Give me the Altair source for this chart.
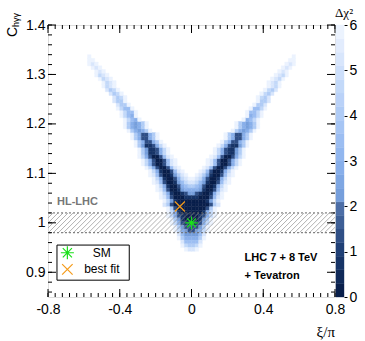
import altair as alt
import pandas as pd
import numpy as np

# ---------------- data ----------------
# histogram binning (80 x 80 bins)
X_MIN, X_BIN = -0.8, 0.02
Y_MIN, Y_BIN = 0.8, 0.0075
N_COLS = 80

# level digit -> estimated delta chi2 of the cell ('.' = empty / above 6)
LEVEL_DCHI2 = [0.15, 0.75, 1.35, 2.25, 2.85, 3.45, 4.05, 4.65, 5.25, 5.85]

# lower part of the V: full rows, first character is column 25
FULL_ROW_FIRST_COL = 25
FULL_ROWS = [
    (41, "..9742002589......9852002479.."),
    (40, "...9741002589....9852001479..."),
    (39, "...98520013689..98631002589..."),
    (38, "....9741002478998742001479...."),
    (37, "....9852001357887531002589...."),
    (36, ".....97410024566542001479....."),
    (35, ".....98520013444431002589....."),
    (34, "......974100123321001479......"),
    (33, "......985200011110002589......"),
    (32, ".......9731000000001379......."),
    (31, ".......8620000000000268......."),
    (30, "........96200000000269........"),
    (29, "........97410000001479........"),
    (28, "........97421000012479........"),
    (27, ".........963100001369........."),
    (26, ".........974211112479........."),
    (25, "..........9632222369.........."),
    (24, "..........9743223479.........."),
    (23, "...........85333358..........."),
    (22, "...........96444469..........."),
    (21, "............855558............"),
    (20, "............976679............"),
    (19, ".............9889............."),
]

# upper arms: (row, first column of left arm, levels); right arm is its mirror
ARM_ROWS = [
    (42, 26, "9742002589"), (43, 26, "9742002589"), (44, 25, "9742002589"),
    (45, 25, "963112479"), (46, 25, "963112479"), (47, 24, "963112479"),
    (48, 24, "96422469"), (49, 23, "96422469"), (50, 23, "96422469"),
    (51, 22, "9643469"), (52, 21, "9643469"), (53, 21, "9643469"),
    (54, 21, "97549"), (55, 20, "97549"), (56, 20, "97559"), (57, 19, "97559"),
    (58, 19, "8669"), (59, 18, "8669"), (60, 18, "8679"), (61, 17, "8679"),
    (62, 16, "8679"), (63, 15, "9789"), (64, 15, "9789"), (65, 14, "9789"),
    (66, 13, "9789"), (67, 13, "989"), (68, 12, "989"), (69, 11, "989"),
    (70, 11, "99"), (71, 11, "9"),
]

SM_POINT = (0.0, 1.0)
BEST_FIT = (-0.065, 1.033)
HL_LHC_BAND = (0.98, 1.02)

X_MAJOR = [-0.8, -0.4, 0.0, 0.4, 0.8]
Y_MAJOR = [0.9, 1.0, 1.1, 1.2, 1.3, 1.4]
CBAR_TICKS = [0, 1, 2, 3, 4, 5, 6]

# ---------------- layout / style ----------------
W, H = 287, 272
FONT = "Liberation Sans"

ANCHORS = [(0.0, "#061a44"), (1.0, "#1d3d73"), (1.95, "#4d6ea6"), (2.0, "#6e98d6"),
           (3.0, "#8db3ee"), (4.0, "#aecbf6"), (5.0, "#cfe0fb"), (6.0, "#f1f6ff")]


def _interp(v):
    for (a, ca), (b, cb) in zip(ANCHORS[:-1], ANCHORS[1:]):
        if a <= v <= b:
            t = (v - a) / (b - a)
            c1 = [int(ca[i:i + 2], 16) for i in (1, 3, 5)]
            c2 = [int(cb[i:i + 2], 16) for i in (1, 3, 5)]
            return "#" + "".join(f"{round(p + (q - p) * t):02x}" for p, q in zip(c1, c2))
    return ANCHORS[-1][1]


N_LEVELS = 20
PALETTE = [_interp((i + 0.5) * 6 / N_LEVELS) for i in range(N_LEVELS)]

# ---------------- build tables ----------------
cells = []


def add(r, c, ch):
    if ch == ".":
        return
    cells.append(dict(x0=X_MIN + X_BIN * c, x1=X_MIN + X_BIN * (c + 1),
                      y0=Y_MIN + Y_BIN * r, y1=Y_MIN + Y_BIN * (r + 1),
                      d=LEVEL_DCHI2[int(ch)]))


for r, s in FULL_ROWS:
    for i, ch in enumerate(s):
        add(r, FULL_ROW_FIRST_COL + i, ch)
for r, start, s in ARM_ROWS:
    for i, ch in enumerate(s):
        add(r, start + i, ch)
        add(r, N_COLS - 1 - (start + i), ch)
heat_df = pd.DataFrame(cells)

xs = alt.Scale(domain=[-0.8, 0.8], nice=False, zero=False)
ys = alt.Scale(domain=[0.85, 1.4], nice=False, zero=False)
cs = alt.Scale(type="quantize", domain=[0, 6], range=PALETTE)

X_AXIS = alt.Axis(values=X_MAJOR, ticks=False, tickSize=0, domain=False, grid=False, title=None,
                  labelFontSize=14, labelFont=FONT, labelColor="black", labelPadding=5,
                  labelFlush=False, labelOverlap=False,
                  labelExpr="datum.value == 0 ? '0' : (datum.value < 0 ? '-' + format(-datum.value, '.1f') : format(datum.value, '.1f'))")
Y_AXIS = alt.Axis(values=Y_MAJOR, ticks=False, tickSize=0, domain=False, grid=False, title=None,
                  labelFontSize=14, labelFont=FONT, labelColor="black", labelPadding=3,
                  labelFlush=False, labelOverlap=False,
                  labelExpr="datum.value == 1 ? '1' : format(datum.value, '.1f')")


def X(field):
    return alt.X(field, type="quantitative", scale=xs, axis=X_AXIS, title=None)


def Y(field):
    return alt.Y(field, type="quantitative", scale=ys, axis=Y_AXIS, title=None)


heat = alt.Chart(heat_df).mark_rect(strokeWidth=0.4).encode(
    x=X("x0"), x2="x1", y=Y("y0"), y2="y1",
    color=alt.Color("d:Q", scale=cs, legend=None),
    stroke=alt.Stroke("d:Q", scale=cs, legend=None),
)

# hatched HL-LHC band (decoration)
dx = (HL_LHC_BAND[1] - HL_LHC_BAND[0]) * (H / 0.55) / (W / 1.6)
hx = np.arange(-0.8 - dx, 0.8, 0.028)
hatch_df = pd.DataFrame({"hx0": hx, "hx1": hx + dx,
                         "hy0": HL_LHC_BAND[0], "hy1": HL_LHC_BAND[1]})
hatch = alt.Chart(hatch_df).mark_rule(clip=True, color="#909090", strokeWidth=0.7).encode(
    x=X("hx0"), x2="hx1", y=Y("hy0"), y2="hy1")
band_edges = alt.Chart(pd.DataFrame({"y": list(HL_LHC_BAND)})).mark_rule(
    color="#666666", strokeDash=[2, 2], strokeWidth=1).encode(y=Y("y"))

one = pd.DataFrame({"a": [0]})


def text_at(x, y, txt, **kw):
    return alt.Chart(pd.DataFrame({"x": [x], "y": [y]})).mark_text(text=txt, **kw).encode(
        x=X("x"), y=Y("y"))


hl_text = text_at(-0.75, 1.042, "HL-LHC", align="left", baseline="middle", font=FONT,
                  fontSize=11, fontWeight="bold", color="#777777")
lhc1 = text_at(0.296, 0.929, "LHC 7 + 8 TeV", align="left", baseline="middle", font=FONT,
               fontSize=11, fontWeight="bold", color="black")
lhc2 = text_at(0.296, 0.893, "+ Tevatron", align="left", baseline="middle", font=FONT,
               fontSize=11, fontWeight="bold", color="black")

ASTER = "M-1,0L1,0M0,-1L0,1M-0.7,-0.7L0.7,0.7M-0.7,0.7L0.7,-0.7"
XMARK = "M-1,-1L1,1M-1,1L1,-1"
SM_COLOR = "#19e019"
BF_COLOR = "#f59b1a"


def marker(x, y, shape, color, size):
    return alt.Chart(pd.DataFrame({"x": [x], "y": [y]})).mark_point(
        shape=shape, filled=False, stroke=color, strokeWidth=1.2, size=size, opacity=1).encode(
        x=X("x"), y=Y("y"))


sm_mark = marker(SM_POINT[0], SM_POINT[1], ASTER, SM_COLOR, 160)
bf_mark = marker(BEST_FIT[0], BEST_FIT[1], XMARK, BF_COLOR, 100)

legend_box = alt.Chart(pd.DataFrame({"bx0": [-0.75], "bx1": [-0.347], "by0": [0.884], "by1": [0.955]})).mark_rect(
    fill="white", stroke="black", strokeWidth=1).encode(
    x=X("bx0"), x2="bx1", y=Y("by0"), y2="by1")
leg_sm = marker(-0.692, 0.9395, ASTER, SM_COLOR, 170)
leg_bf = marker(-0.692, 0.906, XMARK, BF_COLOR, 110)
leg_t1 = text_at(-0.5, 0.9395, "SM", align="center", baseline="middle", font=FONT, fontSize=12, color="black")
leg_t2 = text_at(-0.5, 0.906, "best fit", align="center", baseline="middle", font=FONT, fontSize=12, color="black")

# inward ticks on all four sides
X_MINOR = [round(v, 3) for v in np.arange(-0.8, 0.8001, 0.04)]
Y_MINOR = [round(v, 3) for v in np.arange(0.86, 1.4001, 0.02)]


def xticks(vals, length, top):
    y0, y1 = (0, length) if top else (H, H - length)
    return alt.Chart(pd.DataFrame({"v": vals})).mark_rule(color="black", strokeWidth=1).encode(
        x=X("v"), y=alt.value(y0), y2=alt.value(y1))


def yticks(vals, length, right):
    x0, x1 = (W, W - length) if right else (0, length)
    return alt.Chart(pd.DataFrame({"v": vals})).mark_rule(color="black", strokeWidth=1).encode(
        y=Y("v"), x=alt.value(x0), x2=alt.value(x1))


ticks = [xticks(X_MAJOR, 8, False), xticks(X_MINOR, 4, False),
         xticks(X_MAJOR, 8, True), xticks(X_MINOR, 4, True),
         yticks(Y_MAJOR, 8, False), yticks(Y_MINOR, 4, False),
         yticks(Y_MAJOR, 8, True), yticks(Y_MINOR, 4, True)]

# axis titles
ytitle_c = alt.Chart(one).mark_text(text="C", angle=270, align="left", baseline="alphabetic",
                                    font=FONT, fontSize=14, color="black").encode(
    x=alt.value(-31), y=alt.value(12))
ytitle_sub = alt.Chart(one).mark_text(text="hγγ", angle=270, align="left", baseline="alphabetic",
                                      font=FONT, fontSize=9, color="black").encode(
    x=alt.value(-29), y=alt.value(2))
xtitle = alt.Chart(one).mark_text(text="ξ/π", align="right", baseline="alphabetic",
                                  font="Liberation Serif", fontSize=15, color="black").encode(
    x=alt.value(W), y=alt.value(312))
ctitle = alt.Chart(one).mark_text(text="Δχ²", align="left", baseline="alphabetic",
                                  font="Liberation Serif", fontSize=13, color="black").encode(
    x=alt.value(W), y=alt.value(-8))

main = alt.layer(heat, hatch, band_edges, hl_text, bf_mark, sm_mark, legend_box,
                 leg_sm, leg_bf, leg_t1, leg_t2, lhc1, lhc2, *ticks,
                 ytitle_c, ytitle_sub, xtitle, ctitle)

# colour bar
cbar_df = pd.DataFrame({"b0": [i * 6 / N_LEVELS for i in range(N_LEVELS)],
                        "b1": [(i + 1) * 6 / N_LEVELS for i in range(N_LEVELS)],
                        "d": [(i + 0.5) * 6 / N_LEVELS for i in range(N_LEVELS)]})
cbar = alt.Chart(cbar_df).mark_rect(strokeWidth=0.4).encode(
    x=alt.value(W + 1), x2=alt.value(W + 9),
    y=alt.Y("b0:Q", scale=alt.Scale(domain=[0, 6], nice=False, zero=False),
            axis=alt.Axis(orient="right", values=CBAR_TICKS, offset=9, ticks=True, tickSize=3,
                          tickColor="black", domain=False, grid=False, title=None,
                          labelFontSize=14, labelFont=FONT, labelColor="black", labelPadding=2,
                          labelFlush=False, labelOverlap=False, format="d")),
    y2="b1",
    color=alt.Color("d:Q", scale=cs, legend=None),
    stroke=alt.Stroke("d:Q", scale=cs, legend=None),
)

chart = alt.layer(main, cbar).resolve_scale(y="independent").properties(
    width=W, height=H,
    autosize=alt.AutoSizeParams(type="none"),
    padding={"left": 48, "top": 25, "right": 30, "bottom": 44},
).configure_view(stroke="black", strokeWidth=1).configure(background="white")

chart.save("out.html", embed_options={"renderer": "svg", "actions": False})
